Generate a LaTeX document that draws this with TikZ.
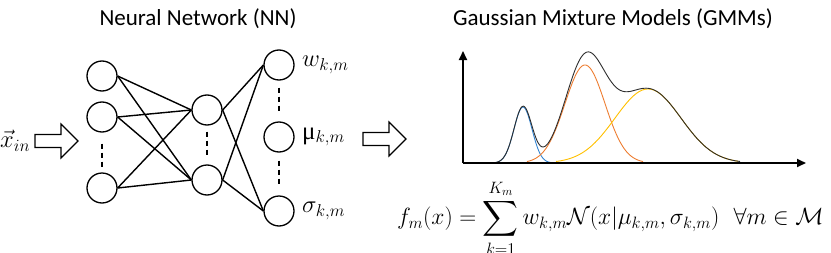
\RequirePackage{fix-cm}
\documentclass[tikz,border=0pt]{standalone}
\usepackage[no-math]{fontspec}
\usepackage{amsmath}
\newfontfamily\calibri{Carlito}
\newfontfamily\grk{Liberation Serif}
\usetikzlibrary{arrows.meta}
\definecolor{gblue}{RGB}{50,132,210}
\definecolor{gorange}{RGB}{237,125,49}
\definecolor{gyellow}{RGB}{255,192,0}
\definecolor{gblack}{RGB}{45,45,45}
\tikzset{
  neuron/.style={circle,draw,line width=1.3pt,minimum size=30pt,inner sep=0pt},
  edge/.style={line width=1.4pt},
  dots/.style={line width=1.2pt,dash pattern=on 5pt off 4pt},
  title/.style={font=\calibri\fontsize{23}{27}\selectfont,inner sep=0pt},
  lbl/.style={font=\fontsize{24.5}{28}\selectfont,anchor=west,inner sep=0pt},
  blockarrow/.style={draw,line width=1.2pt,fill=white},
  axis/.style={line width=1.8pt,-{Triangle[length=9pt,width=8pt]}},
  comp/.style={line width=0.9pt},
}
\begin{document}
\begin{tikzpicture}[x=1pt,y=-1pt]
\useasboundingbox (0,0) rectangle (831,252);
% titles
\node[title] (t1) at (198,19) {Neural Network (NN)};
\node[title] (t2) at (613,19) {Gaussian Mixture Models (GMMs)};
% neurons
\node[neuron] (i1) at (102,76) {};
\node[neuron] (i2) at (102,117) {};
\node[neuron] (i3) at (102,188) {};
\node[neuron] (h1) at (207,110) {};
\node[neuron] (h2) at (207,180) {};
\node[neuron] (o1) at (279,65) {};
\node[neuron] (o2) at (279,137) {};
\node[neuron] (o3) at (279,211) {};
% dashed
\draw[dots] ([yshift=-11pt]i2.south) -- ([yshift=3pt]i3.north);
\draw[dots] ([yshift=-6pt]h1.south) -- ([yshift=8pt]h2.north);
\draw[dots] ([yshift=-7pt]o1.south) -- ([yshift=9pt]o2.north);
\draw[dots] ([yshift=-8pt]o2.south) -- ([yshift=8pt]o3.north);
% edges
\foreach \i in {i1,i2,i3}{
  \foreach \h in {h1,h2}{
    \draw[edge] (\i.east) -- (\h.west);
  }
}
\foreach \h in {h1,h2}{
  \foreach \o in {o1,o3}{
    \draw[edge] (\h.east) -- (\o.west);
  }
}
% labels
\node[lbl] (lw) at (302,65) {$w_{k,m}$};
\node[lbl] (lmu) at (302,137) {{\grk\fontsize{25}{27}\selectfont μ}$_{k,m}$};
\node[lbl] (ls) at (302,211) {$\sigma_{k,m}$};
\node[lbl] (xin) at (0,141) {$\vec{x}_{in}$};
% block arrows
\draw[blockarrow] (35,134.5) -- (61,134.5) -- (61,124) -- (78,141) -- (61,158) -- (61,147.5) -- (35,147.5) -- cycle;
\draw[blockarrow] (363,132.5) -- (389,132.5) -- (389,122) -- (406,139) -- (389,156) -- (389,145.5) -- (363,145.5) -- cycle;
% axes
\coordinate (org) at (463,163);
\coordinate (ytop) at (463,51);
\coordinate (xend) at (806,163);
% curves
\draw[comp,gblue] plot[domain=497:551,samples=60,smooth] (\x,{163-56*exp(-((\x-523)/9)^2/2)});
\draw[comp,gorange] plot[domain=527:643,samples=100,smooth] (\x,{163-98*exp(-((\x-585)/20)^2/2)});
\draw[comp,gyellow] plot[domain=556:738,samples=100,smooth] (\x,{163-74*exp(-((\x-648)/33)^2/2)});
\draw[comp,gblack] plot[domain=495:740,samples=200,smooth] (\x,{163-56*exp(-((\x-523)/9)^2/2)-98*exp(-((\x-585)/20)^2/2)-74*exp(-((\x-648)/33)^2/2)});
\draw[axis] (org) -- (ytop);
\draw[axis] (org) -- (xend);
% formula
\node[font=\fontsize{23.5}{27}\selectfont,anchor=base west,inner sep=0pt] (eq) at (397,224.5)
  {$f_m(x) = \displaystyle\sum_{k=1}^{K_m} w_{k,m}\mathcal{N}(x|\mu_{k,m},\sigma_{k,m})\ \ \forall m\in\mathcal{M}$};
\end{tikzpicture}
\end{document}
